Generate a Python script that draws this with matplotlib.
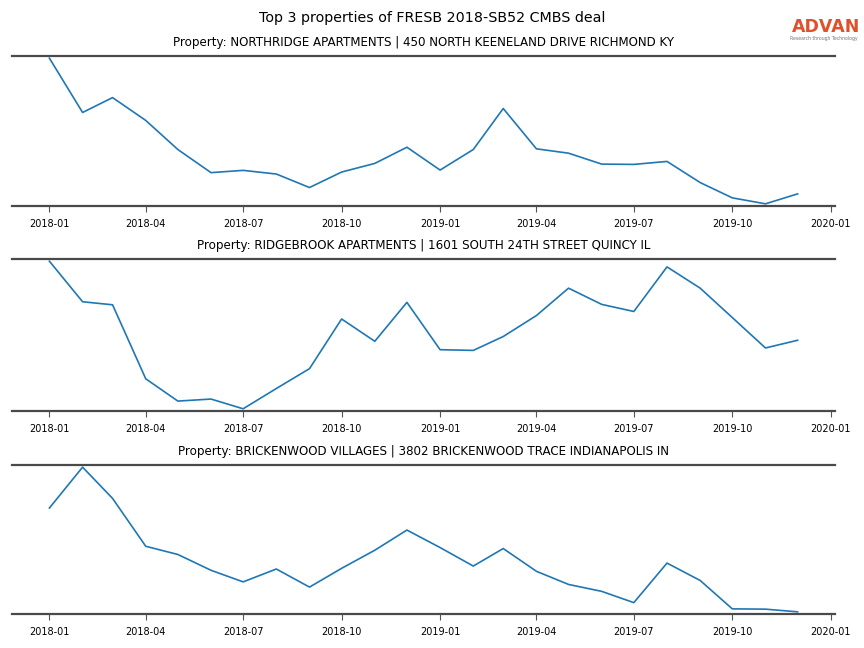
import matplotlib
matplotlib.use("Agg")
import matplotlib.pyplot as plt
import matplotlib.dates as mdates
import numpy as np
import pandas as pd

months = pd.date_range("2018-01-01", "2019-12-01", freq="MS")

titles = [
    "Property: NORTHRIDGE APARTMENTS | 450 NORTH KEENELAND DRIVE RICHMOND KY",
    "Property: RIDGEBROOK APARTMENTS | 1601 SOUTH 24TH STREET QUINCY IL",
    "Property: BRICKENWOOD VILLAGES | 3802 BRICKENWOOD TRACE INDIANAPOLIS IN",
]

northridge = [147.7, 93.0, 108.0, 85.0, 55.7, 32.4, 34.7, 31.0, 17.4, 33.0, 41.7, 58.0,
              35.0, 55.7, 97.0, 56.4, 52.0, 41.0, 40.7, 43.7, 22.4, 7.0, 1.0, 11.0]
ridgebrook = [148.0, 108.0, 105.0, 32.0, 10.0, 12.0, 2.4, 22.4, 42.0, 91.0, 69.0, 107.4,
              60.7, 60.0, 73.7, 94.4, 121.4, 105.4, 98.4, 142.4, 121.4, 92.4, 62.4, 70.0]
brickenwood = [105.7, 147.0, 115.4, 67.0, 58.7, 42.7, 31.0, 44.0, 25.7, 44.7, 63.0, 83.4,
               65.7, 47.0, 64.7, 41.7, 28.4, 21.4, 10.0, 50.0, 32.4, 3.7, 3.4, 0.7]

series = [northridge, ridgebrook, brickenwood]
tick_dates = pd.date_range("2018-01-01", "2020-01-01", freq="3MS")

fig = plt.figure(figsize=(8.64, 6.48), dpi=100)
fig.suptitle("Top 3 properties of FRESB 2018-SB52 CMBS deal", fontsize=10.3, y=0.983)

axes_rects = [
    (12 / 864, 1 - 206 / 648, 823 / 864, 150 / 648),
    (12 / 864, 1 - 411 / 648, 823 / 864, 152 / 648),
    (12 / 864, 1 - 614 / 648, 823 / 864, 149 / 648),
]

for rect, title, vals in zip(axes_rects, titles, series):
    ax = fig.add_axes(rect)
    ax.plot(months, vals, color="#1f77b4", lw=1.2)
    ax.set_title(title, fontsize=8.6, pad=7)
    ax.margins(x=0.05, y=0.015)
    for s in ["left", "right"]:
        ax.spines[s].set_visible(False)
    for s in ["top", "bottom"]:
        ax.spines[s].set_color("#4a4a4a")
        ax.spines[s].set_linewidth(1.6)
    ax.set_yticks([])
    ax.set_xticks(tick_dates)
    ax.xaxis.set_major_formatter(mdates.DateFormatter("%Y-%m"))
    ax.tick_params(axis="x", labelsize=7, length=4, width=0.8, color="#555555", pad=5.5)

fig.text(0.956, 0.958, "ADVAN", color="#E0502A", fontsize=12.5, fontweight="bold",
         ha="center", va="center")
fig.text(0.954, 0.9406, "Research through Technology", color="#777777", fontsize=3.3,
         ha="center", va="center")

fig.savefig("out.png", dpi=100)
